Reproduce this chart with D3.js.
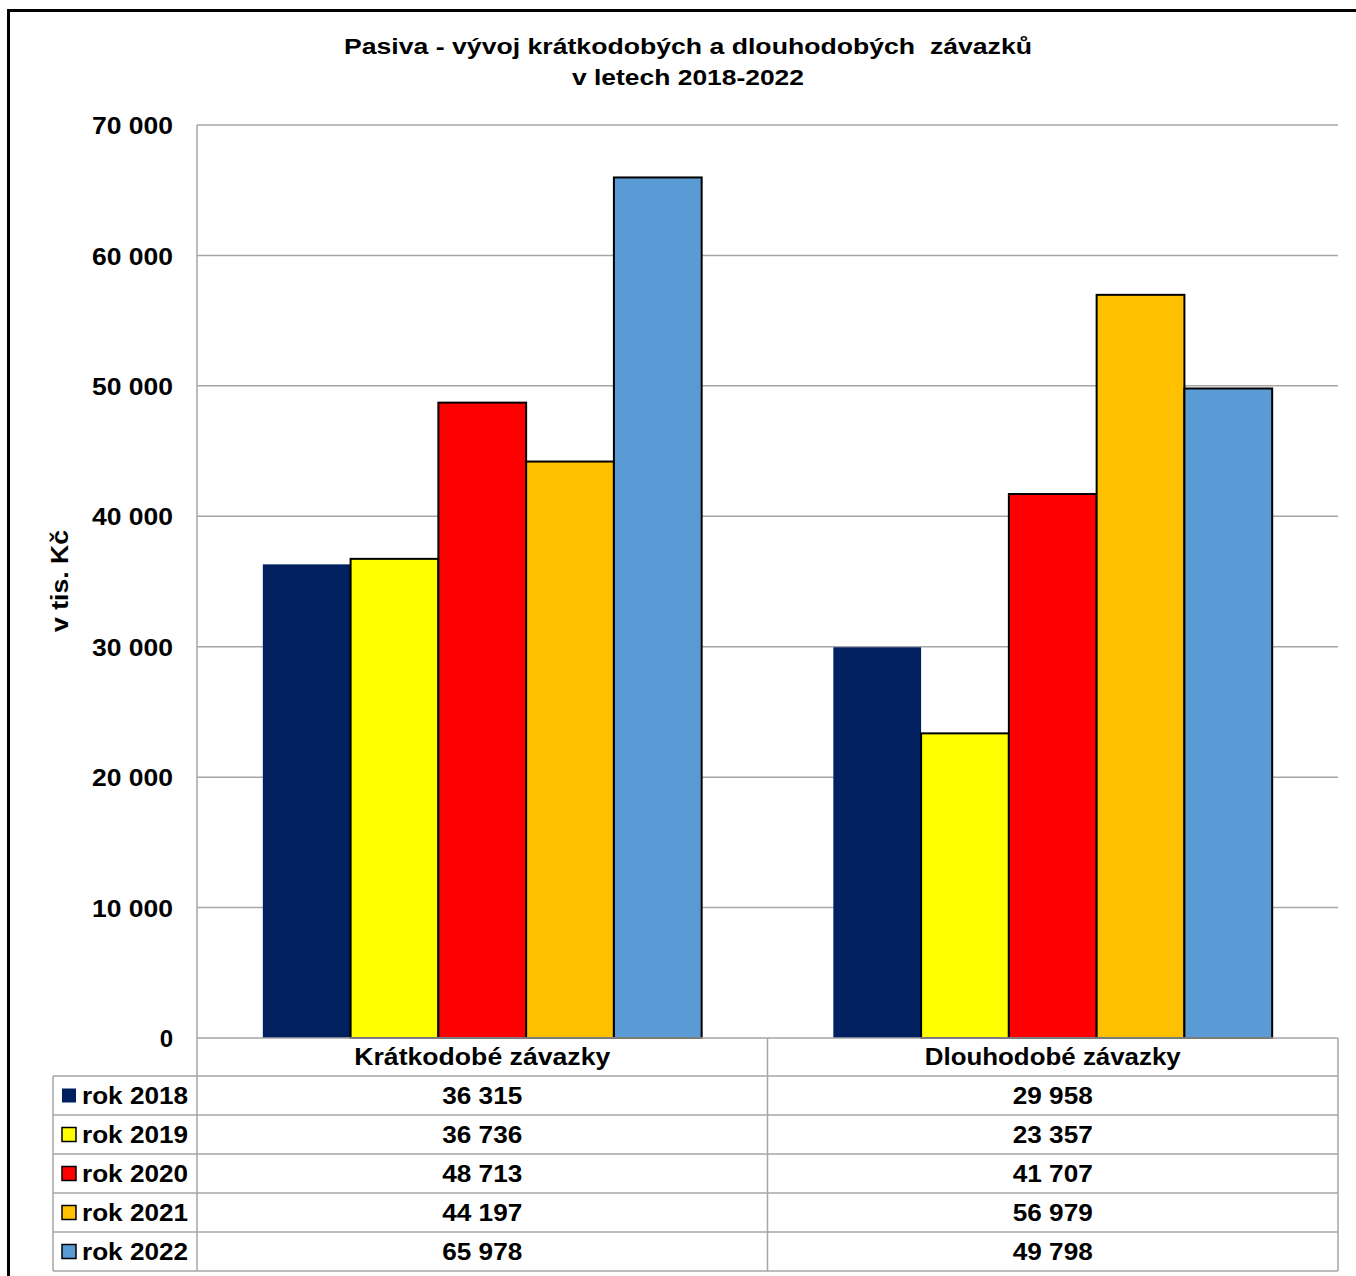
<!DOCTYPE html>
<html><head><meta charset="utf-8">
<script src="https://cdn.jsdelivr.net/npm/d3@7"></script>
<style>html,body{margin:0;padding:0;background:#fff;}svg{display:block;font-family:"Liberation Sans",Arial,sans-serif;}</style>
</head><body>
<svg id="c" width="1356" height="1276"></svg>
<script>
const categories = ["Krátkodobé závazky", "Dlouhodobé závazky"];
const years = ["rok 2018", "rok 2019", "rok 2020", "rok 2021", "rok 2022"];
const v2018 = [36315, 29958];
const v2019 = [36736, 23357];
const v2020 = [48713, 41707];
const v2021 = [44197, 56979];
const v2022 = [65978, 49798];
const yTicks = [0, 10000, 20000, 30000, 40000, 50000, 60000, 70000];
const colors = ["#002060", "#FFFF00", "#FF0000", "#FFC000", "#5B9BD5"];
const series = [v2018, v2019, v2020, v2021, v2022];
const fmt = v => d3.format(",")(v).replace(/,/g, " ");

const svg = d3.select("#c");
const L = 197, R = 1338, T = 125, B = 1038;
const rowH = 39, tableTop = 1076;
const labelLeft = 53;

// outer frame
svg.append("rect").attr("x", 8.5).attr("y", 10.5).attr("width", 1400).attr("height", 1400)
  .attr("fill", "none").attr("stroke", "#000").attr("stroke-width", 3);

// title
svg.append("text").attr("x", 688).attr("y", 54).attr("text-anchor", "middle")
  .attr("font-size", 22).attr("font-weight", "bold").style("white-space", "pre")
  .attr("textLength", 688).attr("lengthAdjust", "spacingAndGlyphs")
  .text("Pasiva - vývoj krátkodobých a dlouhodobých  závazků");
svg.append("text").attr("x", 688).attr("y", 85).attr("text-anchor", "middle")
  .attr("font-size", 22).attr("font-weight", "bold")
  .attr("textLength", 232).attr("lengthAdjust", "spacingAndGlyphs")
  .text("v letech 2018-2022");

const y = d3.scaleLinear().domain([0, 70000]).range([B, T]);
const x0 = d3.scaleBand().domain(categories).range([L, R]).paddingInner(0).paddingOuter(0);
const x1 = d3.scaleBand().domain(years).range([0, x0.bandwidth()]).paddingInner(0).paddingOuter(0.75);

// gridlines
svg.append("g").selectAll("line").data(yTicks.filter(d => d > 0)).join("line")
  .attr("x1", L).attr("x2", R).attr("y1", d => y(d)).attr("y2", d => y(d))
  .attr("stroke", "#A6A6A6").attr("stroke-width", 1.5);

// y axis labels via d3 axis
const yAxis = d3.axisLeft(y).tickValues(yTicks).tickFormat(fmt).tickSize(0).tickPadding(24);
const gy = svg.append("g").attr("transform", `translate(${L},0)`).call(yAxis);
gy.select(".domain").remove();
gy.selectAll("text").attr("font-size", 24).attr("font-weight", "bold").attr("fill", "#000")
  .attr("font-family", "'Liberation Sans',Arial,sans-serif").attr("dy", "0.36em")
  .each(function(d) { if (d > 0) d3.select(this).attr("textLength", 81).attr("lengthAdjust", "spacingAndGlyphs"); });

// y title
svg.append("text").attr("transform", "translate(68,581) rotate(-90)").attr("text-anchor", "middle")
  .attr("font-size", 24).attr("font-weight", "bold")
  .attr("textLength", 102).attr("lengthAdjust", "spacingAndGlyphs").text("v tis. Kč");

// bars
const gBars = svg.append("g");
categories.forEach((c, ci) => {
  years.forEach((yr, si) => {
    const v = series[si][ci];
    gBars.append("rect")
      .attr("x", x0(c) + x1(yr)).attr("y", y(v))
      .attr("width", x1.bandwidth()).attr("height", y(0) - y(v))
      .attr("fill", colors[si])
      .attr("stroke", si === 0 ? "none" : "#000").attr("stroke-width", 2);
  });
});

// table lines
const tl = svg.append("g").attr("stroke", "#A6A6A6").attr("stroke-width", 1.5);
const tableBottom = tableTop + rowH * years.length;
tl.append("line").attr("x1", L).attr("x2", L).attr("y1", T).attr("y2", tableBottom);
tl.append("line").attr("x1", L).attr("x2", R).attr("y1", B).attr("y2", B);
categories.forEach(c => {
  tl.append("line").attr("x1", x0(c) + x0.bandwidth()).attr("x2", x0(c) + x0.bandwidth())
    .attr("y1", B).attr("y2", tableBottom);
});
tl.append("line").attr("x1", labelLeft).attr("x2", labelLeft).attr("y1", tableTop).attr("y2", tableBottom);
d3.range(years.length + 1).forEach(i => {
  const yy = tableTop + i * rowH;
  tl.append("line").attr("x1", labelLeft).attr("x2", R).attr("y1", yy).attr("y2", yy);
});

// header
categories.forEach(c => {
  svg.append("text").attr("x", x0(c) + x0.bandwidth() / 2).attr("y", (B + tableTop) / 2)
    .attr("dy", "0.35em").attr("text-anchor", "middle").attr("font-size", 23).attr("font-weight", "bold")
    .attr("textLength", 256).attr("lengthAdjust", "spacingAndGlyphs").text(c);
});

// rows
years.forEach((yr, si) => {
  const cy = tableTop + si * rowH + rowH / 2;
  svg.append("rect").attr("x", 62).attr("y", cy - 7).attr("width", 14).attr("height", 14)
    .attr("fill", colors[si]).attr("stroke", si === 0 ? "none" : "#000").attr("stroke-width", 1.5);
  svg.append("text").attr("x", 82).attr("y", cy).attr("dy", "0.35em").attr("font-size", 23)
    .attr("font-weight", "bold").attr("textLength", 106).attr("lengthAdjust", "spacingAndGlyphs").text(yr);
  categories.forEach((c, ci) => {
    svg.append("text").attr("x", x0(c) + x0.bandwidth() / 2).attr("y", cy).attr("dy", "0.35em")
      .attr("text-anchor", "middle").attr("font-size", 23).attr("font-weight", "bold")
      .attr("textLength", 80).attr("lengthAdjust", "spacingAndGlyphs").text(fmt(series[si][ci]));
  });
});
</script>
</body></html>
